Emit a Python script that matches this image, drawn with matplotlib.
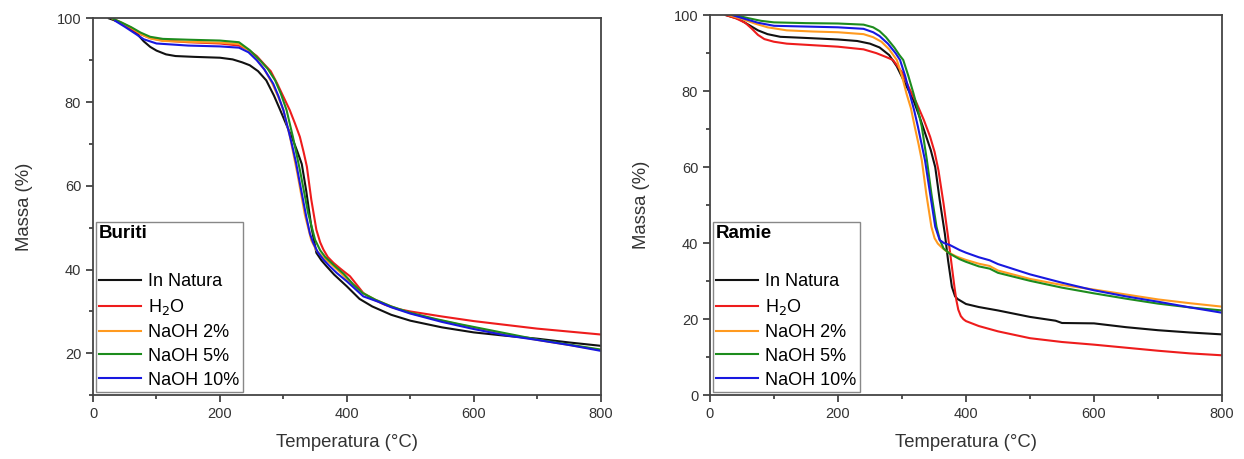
#!/usr/bin/env python3
from matplotlib import pyplot as plt
from matplotlib.lines import Line2D
from matplotlib.ticker import MultipleLocator

plt.rcParams['font.family'] = ['Liberation Sans', 'DejaVu Sans']

names = ['In Natura', 'H$_2$O', 'NaOH 2%', 'NaOH 5%', 'NaOH 10%']
colors = ['#111111', '#ee1c1c', '#ff9a1f', '#1d8c1d', '#1818e0']

# --- Buriti ---
bur_nat_t = [25, 40, 55, 70, 80, 90, 100, 115, 130, 160, 200, 220, 235, 247, 260, 273, 285, 295, 305, 315,
             322, 329, 336, 344, 352, 360, 368, 380, 400, 420, 440, 470, 500, 550, 600, 650, 700, 750, 800]
bur_nat_m = [100, 99.2, 97.8, 96.2, 94.5, 93.2, 92.3, 91.4, 91.0, 90.8, 90.6, 90.2, 89.5, 88.8, 87.4, 85.2,
             81.6, 78.1, 74.5, 71.0, 68.2, 65.2, 58.8, 50.3, 44.0, 42.2, 40.8, 38.8, 36.0, 33.0, 31.2, 29.2,
             27.8, 26.2, 25.0, 24.2, 23.5, 22.6, 21.8]

bur_h2o_t = [30, 45, 60, 75, 90, 110, 150, 200, 230, 245, 258, 270, 280, 290, 300, 310, 318, 326, 332, 337,
             344, 352, 358, 363, 370, 379, 390, 405, 415, 426, 440, 460, 480, 500, 550, 600, 650, 700, 750, 800]
bur_h2o_m = [100, 98.8, 97.5, 96.2, 95.3, 94.7, 94.3, 94.0, 93.5, 92.5, 91.0, 89.0, 87.4, 84.5, 81.3, 78.1,
             75.0, 71.7, 68.0, 64.6, 56.7, 49.5, 46.5, 44.8, 43.0, 41.6, 40.2, 38.4, 36.5, 34.4, 33.0, 31.6,
             30.6, 30.0, 28.8, 27.7, 26.8, 25.9, 25.2, 24.5]

bur_2_t = [30, 45, 60, 75, 90, 110, 150, 200, 230, 245, 258, 270, 282, 292, 300, 310, 322, 334, 344, 352,
           362, 376, 392, 408, 425, 445, 470, 500, 540, 580, 620, 660, 700, 750, 800]
bur_2_m = [100, 99.0, 97.8, 96.3, 95.2, 94.6, 94.4, 94.2, 93.9, 92.4, 90.2, 87.8, 84.6, 81.2, 78.1, 72.0,
           63.0, 53.0, 47.0, 44.6, 43.0, 41.2, 39.0, 36.6, 34.4, 32.8, 31.2, 29.6, 28.1, 26.8, 25.5, 24.3,
           23.2, 22.0, 20.8]

bur_5_t = [30, 45, 60, 75, 90, 110, 150, 200, 230, 247, 263, 275, 287, 296, 305, 315, 326, 339, 350, 358,
           366, 380, 395, 410, 425, 445, 470, 500, 540, 580, 620, 660, 700, 750, 800]
bur_5_m = [100, 99.0, 97.9, 96.6, 95.6, 95.1, 94.9, 94.7, 94.3, 92.4, 90.0, 88.0, 85.2, 82.0, 78.1, 71.7,
           63.8, 53.5, 47.1, 44.6, 43.0, 41.0, 39.0, 36.5, 34.4, 32.8, 31.2, 29.7, 28.2, 26.9, 25.7, 24.5,
           23.3, 22.1, 20.9]

bur_10_t = [35, 50, 60, 80, 100, 150, 200, 230, 245, 258, 270, 284, 292, 300, 313, 320, 326, 336, 342, 347,
            354, 363, 373, 384, 400, 426, 450, 470, 500, 550, 600, 650, 700, 750, 800]
bur_10_m = [99.4, 98.0, 97.0, 95.0, 94.0, 93.5, 93.3, 93.0, 91.9, 90.0, 87.8, 84.4, 81.5, 78.1, 70.2, 65.5,
            60.6, 52.7, 48.5, 46.4, 44.2, 42.4, 40.8, 39.2, 37.2, 33.6, 32.3, 31.0, 29.5, 27.5, 25.8, 24.3,
            23.2, 22.0, 20.6]

# --- Ramie ---
ram_nat_t = [25, 45, 60, 75, 90, 110, 150, 200, 230, 250, 265, 280, 292, 305, 318, 328, 338, 345, 352,
             359, 367, 372, 378, 383, 387, 392, 400, 420, 450, 500, 540, 550, 600, 650, 700, 750, 800]
ram_nat_m = [100, 99.0, 97.5, 96.0, 95.0, 94.3, 94.0, 93.6, 93.2, 92.5, 91.5, 89.5, 86.5, 82.0, 77.6,
             73.0, 68.0, 64.5, 60.0, 51.3, 42.5, 35.5, 28.5, 26.0, 25.3, 24.8, 24.0, 23.2, 22.3, 20.6,
             19.6, 19.0, 18.9, 17.9, 17.1, 16.5, 16.0]

ram_h2o_t = [25, 40, 55, 65, 75, 85, 100, 120, 150, 200, 240, 260, 275, 286, 300, 312, 323, 334, 344,
             351, 357, 365, 372, 378, 382, 385, 388, 392, 396, 400, 420, 450, 500, 550, 600, 650, 700, 750, 800]
ram_h2o_m = [100, 99.2, 98.0, 96.5, 94.8, 93.7, 93.0, 92.5, 92.2, 91.7, 91.0, 90.0, 89.0, 88.2, 85.0,
             80.5, 76.8, 72.5, 68.0, 64.0, 59.2, 50.4, 41.7, 33.8, 28.5, 25.0, 22.5, 20.8, 20.0, 19.5,
             18.2, 16.8, 15.0, 14.0, 13.3, 12.5, 11.7, 11.0, 10.5]

ram_2_t = [30, 50, 70, 90, 120, 160, 200, 240, 255, 268, 280, 292, 300, 307, 314, 320, 326, 331, 338,
           346, 351, 356, 362, 370, 385, 400, 420, 437, 450, 500, 550, 600, 650, 700, 750, 800]
ram_2_m = [100, 99.0, 97.8, 96.8, 96.0, 95.7, 95.5, 95.0, 94.2, 93.0, 91.0, 88.2, 84.0, 79.4, 75.5,
           70.6, 66.0, 61.8, 53.0, 44.3, 41.3, 39.9, 38.9, 37.8, 36.5, 35.6, 34.6, 34.0, 32.8, 30.6,
           29.0, 27.8, 26.5, 25.2, 24.2, 23.3]

ram_5_t = [40, 60, 80, 100, 150, 200, 240, 255, 265, 275, 288, 296, 302, 310, 318, 325, 331, 339, 346,
           354, 359, 365, 375, 390, 400, 420, 437, 450, 500, 550, 600, 650, 700, 750, 800]
ram_5_m = [100, 99.2, 98.5, 98.1, 97.9, 97.8, 97.5, 96.8, 95.8, 94.2, 91.5, 89.5, 88.2, 84.0, 79.4,
           75.0, 70.6, 61.8, 53.0, 44.3, 41.0, 38.6, 37.2, 35.8, 35.1, 33.9, 33.3, 32.2, 30.1, 28.3,
           26.8, 25.4, 24.1, 23.1, 22.3]

ram_10_t = [35, 55, 75, 100, 150, 200, 240, 255, 265, 278, 290, 297, 305, 312, 319, 325, 336, 344, 352,
            359, 366, 375, 390, 400, 420, 437, 450, 500, 550, 600, 650, 700, 750, 800]
ram_10_m = [100, 99.0, 98.0, 97.2, 97.0, 96.8, 96.4, 95.5, 94.5, 92.5, 90.0, 88.2, 84.0, 79.4, 75.0,
            70.6, 61.8, 53.0, 44.3, 40.8, 40.0, 39.5, 38.2, 37.5, 36.3, 35.5, 34.5, 31.8, 29.6, 27.6,
            26.0, 24.6, 23.1, 21.7]

buriti = [(bur_nat_t, bur_nat_m), (bur_h2o_t, bur_h2o_m), (bur_2_t, bur_2_m),
          (bur_5_t, bur_5_m), (bur_10_t, bur_10_m)]
ramie = [(ram_nat_t, ram_nat_m), (ram_h2o_t, ram_h2o_m), (ram_2_t, ram_2_m),
         (ram_5_t, ram_5_m), (ram_10_t, ram_10_m)]

fig = plt.figure(figsize=(12.44, 4.59), dpi=100)
ax1 = fig.add_axes([0.0748, 0.139, 0.408, 0.821])
ax2 = fig.add_axes([0.5707, 0.139, 0.4116, 0.828])


def draw(ax, series, title, ylim):
    for (t, m), c, n in zip(series, colors, names):
        ax.plot(t, m, color=c, lw=1.5, label=n)
    ax.set_xlim(0, 800)
    ax.set_ylim(*ylim)
    ax.xaxis.set_major_locator(MultipleLocator(200))
    ax.xaxis.set_minor_locator(MultipleLocator(100))
    ax.yaxis.set_major_locator(MultipleLocator(20))
    ax.yaxis.set_minor_locator(MultipleLocator(10))
    ax.tick_params(which='both', direction='out', top=False, right=False,
                   colors='#333333', labelsize=10.5, width=1.2)
    ax.tick_params(which='major', length=5)
    ax.tick_params(which='minor', length=3)
    for s in ax.spines.values():
        s.set_color('#444444')
        s.set_linewidth(1.3)
    ax.set_xlabel('Temperatura (°C)', fontsize=13.3, color='#333333', labelpad=9)
    ax.set_ylabel('Massa (%)', fontsize=13.3, color='#333333', labelpad=17)

    handles, labels = ax.get_legend_handles_labels()
    blank = Line2D([], [], color='none')
    leg = ax.legend([blank] + handles, [''] + labels, title=title, loc='lower left',
                    bbox_to_anchor=(0.005, 0.008), borderaxespad=0, fontsize=13,
                    title_fontproperties={'weight': 'bold', 'size': 13.5},
                    alignment='left', fancybox=False, edgecolor='#888888',
                    handlelength=2.3, handletextpad=0.4, labelspacing=0.38,
                    borderpad=0.2, framealpha=1)
    leg.get_frame().set_linewidth(1.0)


draw(ax1, buriti, 'Buriti', (10, 100))
draw(ax2, ramie, 'Ramie', (0, 100))

plt.savefig('out.png', dpi=100)
